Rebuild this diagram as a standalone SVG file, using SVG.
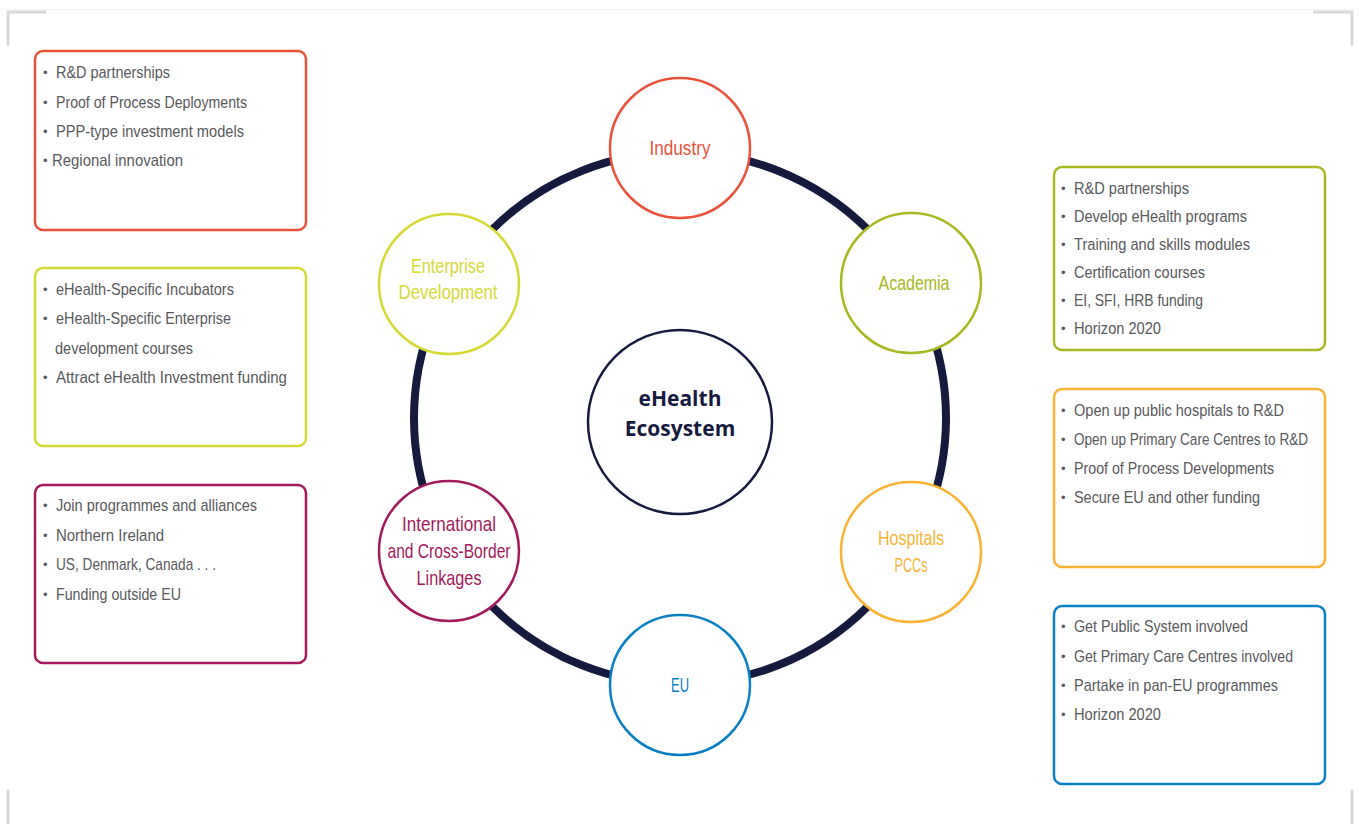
<svg xmlns="http://www.w3.org/2000/svg" width="1359" height="824" viewBox="0 0 1359 824">
<style>
.bg{fill:#ffffff}
.corner{fill:none;stroke:#d9d9d9;stroke-width:3}
.box{fill:#ffffff;stroke-width:2.5}
.bt{font-family:"Liberation Sans",Arial,sans-serif;font-size:17px;fill:#58595b}
.bu{font-family:"Liberation Sans",Arial,sans-serif;font-size:13px;fill:#58595b}
.node{fill:#ffffff;stroke-width:2.5}
.nl{font-family:"Liberation Sans",Arial,sans-serif;font-size:21px;text-anchor:middle}
.ring{fill:none;stroke:#171a3f;stroke-width:8}
.ct{font-family:"Open Sans","Liberation Sans",sans-serif;font-weight:bold;font-size:21px;fill:#171a3f;text-anchor:middle}
</style>
<rect class="bg" x="0" y="0" width="1359" height="824"/>
<line x1="0" y1="9.5" x2="1359" y2="9.5" stroke="#f3f3f3" stroke-width="1"/>
<path class="corner" d="M8,46 V12 H46"/>
<path class="corner" d="M1313,12 H1352 V46"/>
<path class="corner" d="M8,790 V824"/>
<path class="corner" d="M1352,790 V824"/>

<g id="connectors">
<circle class="ring" cx="680" cy="418" r="266"/>
</g>

<g id="center">
<circle cx="680" cy="422" r="92" fill="#ffffff" stroke="#171a3f" stroke-width="2.5"/>
<text class="ct" x="680" y="406">eHealth</text>
<text class="ct" x="680" y="436">Ecosystem</text>
</g>

<g id="industry">
<circle class="node" cx="680" cy="148" r="70" stroke="#e8523a"/>
<text class="nl" x="680" y="155" fill="#e8523a" textLength="61" lengthAdjust="spacingAndGlyphs">Industry</text>
</g>
<g id="academia">
<circle class="node" cx="911" cy="283" r="70" stroke="#a8b820"/>
<text class="nl" x="914" y="290" fill="#a8b820" textLength="71" lengthAdjust="spacingAndGlyphs">Academia</text>
</g>
<g id="hospitals">
<circle class="node" cx="911" cy="552" r="70" stroke="#f9b233"/>
<text class="nl" x="911" y="545" fill="#f9b233" textLength="66" lengthAdjust="spacingAndGlyphs">Hospitals</text>
<text class="nl" x="911" y="572" fill="#f9b233" textLength="33" lengthAdjust="spacingAndGlyphs">PCCs</text>
</g>
<g id="eu">
<circle class="node" cx="680" cy="685" r="70" stroke="#0a80c4"/>
<text class="nl" x="680" y="692" fill="#0a80c4" textLength="18" lengthAdjust="spacingAndGlyphs">EU</text>
</g>
<g id="international">
<circle class="node" cx="449" cy="551" r="70" stroke="#a3195b"/>
<text class="nl" x="449" y="531" fill="#a3195b" textLength="94" lengthAdjust="spacingAndGlyphs">International</text>
<text class="nl" x="449" y="558" fill="#a3195b" textLength="123" lengthAdjust="spacingAndGlyphs">and Cross-Border</text>
<text class="nl" x="449" y="585" fill="#a3195b" textLength="65" lengthAdjust="spacingAndGlyphs">Linkages</text>
</g>
<g id="enterprise">
<circle class="node" cx="449" cy="284" r="70" stroke="#d4d934"/>
<text class="nl" x="448" y="273" fill="#d4d934" textLength="74" lengthAdjust="spacingAndGlyphs">Enterprise</text>
<text class="nl" x="448" y="299" fill="#d4d934" textLength="99" lengthAdjust="spacingAndGlyphs">Development</text>
</g>

<g id="box-industry">
<rect class="box" x="35" y="51" width="271" height="179" rx="8" stroke="#e8523a"/>
<text class="bu" x="43" y="77">•</text><text class="bt" x="56" y="78" textLength="114" lengthAdjust="spacingAndGlyphs">R&amp;D partnerships</text>
<text class="bu" x="43" y="107">•</text><text class="bt" x="56" y="108" textLength="191" lengthAdjust="spacingAndGlyphs">Proof of Process Deployments</text>
<text class="bu" x="43" y="136">•</text><text class="bt" x="56" y="137" textLength="188" lengthAdjust="spacingAndGlyphs">PPP-type investment models</text>
<text class="bu" x="43" y="165">•</text><text class="bt" x="52" y="166" textLength="131" lengthAdjust="spacingAndGlyphs">Regional innovation</text>
</g>
<g id="box-enterprise">
<rect class="box" x="35" y="268" width="271" height="178" rx="8" stroke="#d4d934"/>
<text class="bu" x="43" y="294">•</text><text class="bt" x="56" y="295" textLength="178" lengthAdjust="spacingAndGlyphs">eHealth-Specific Incubators</text>
<text class="bu" x="43" y="323">•</text><text class="bt" x="56" y="324" textLength="175" lengthAdjust="spacingAndGlyphs">eHealth-Specific Enterprise</text>
<text class="bt" x="55" y="354" textLength="138" lengthAdjust="spacingAndGlyphs">development courses</text>
<text class="bu" x="43" y="382">•</text><text class="bt" x="56" y="383" textLength="231" lengthAdjust="spacingAndGlyphs">Attract eHealth Investment funding</text>
</g>
<g id="box-international">
<rect class="box" x="35" y="485" width="271" height="178" rx="8" stroke="#a3195b"/>
<text class="bu" x="43" y="510">•</text><text class="bt" x="56" y="511" textLength="201" lengthAdjust="spacingAndGlyphs">Join programmes and alliances</text>
<text class="bu" x="43" y="540">•</text><text class="bt" x="56" y="541" textLength="108" lengthAdjust="spacingAndGlyphs">Northern Ireland</text>
<text class="bu" x="43" y="569">•</text><text class="bt" x="56" y="570" textLength="160" lengthAdjust="spacingAndGlyphs">US, Denmark, Canada . . .</text>
<text class="bu" x="43" y="599">•</text><text class="bt" x="56" y="600" textLength="125" lengthAdjust="spacingAndGlyphs">Funding outside EU</text>
</g>
<g id="box-academia">
<rect class="box" x="1054" y="167" width="271" height="183" rx="8" stroke="#a8b820"/>
<text class="bu" x="1061" y="193">•</text><text class="bt" x="1074" y="194" textLength="115" lengthAdjust="spacingAndGlyphs">R&amp;D partnerships</text>
<text class="bu" x="1061" y="221">•</text><text class="bt" x="1074" y="222" textLength="173" lengthAdjust="spacingAndGlyphs">Develop eHealth programs</text>
<text class="bu" x="1061" y="249">•</text><text class="bt" x="1074" y="250" textLength="176" lengthAdjust="spacingAndGlyphs">Training and skills modules</text>
<text class="bu" x="1061" y="277">•</text><text class="bt" x="1074" y="278" textLength="131" lengthAdjust="spacingAndGlyphs">Certification courses</text>
<text class="bu" x="1061" y="305">•</text><text class="bt" x="1074" y="306" textLength="129" lengthAdjust="spacingAndGlyphs">EI, SFI, HRB funding</text>
<text class="bu" x="1061" y="333">•</text><text class="bt" x="1074" y="334" textLength="87" lengthAdjust="spacingAndGlyphs">Horizon 2020</text>
</g>
<g id="box-hospitals">
<rect class="box" x="1054" y="389" width="271" height="178" rx="8" stroke="#f9b233"/>
<text class="bu" x="1061" y="415">•</text><text class="bt" x="1074" y="416" textLength="210" lengthAdjust="spacingAndGlyphs">Open up public hospitals to R&amp;D</text>
<text class="bu" x="1061" y="444">•</text><text class="bt" transform="translate(1074,445) scale(0.797,1)" x="0" y="0">Open up Primary Care Centres to R&amp;D</text>
<text class="bu" x="1061" y="473">•</text><text class="bt" x="1074" y="474" textLength="200" lengthAdjust="spacingAndGlyphs">Proof of Process Developments</text>
<text class="bu" x="1061" y="502">•</text><text class="bt" x="1074" y="503" textLength="186" lengthAdjust="spacingAndGlyphs">Secure EU and other funding</text>
</g>
<g id="box-eu">
<rect class="box" x="1054" y="606" width="271" height="178" rx="8" stroke="#0a80c4"/>
<text class="bu" x="1061" y="631">•</text><text class="bt" x="1074" y="632" textLength="174" lengthAdjust="spacingAndGlyphs">Get Public System involved</text>
<text class="bu" x="1061" y="661">•</text><text class="bt" x="1074" y="662" textLength="219" lengthAdjust="spacingAndGlyphs">Get Primary Care Centres involved</text>
<text class="bu" x="1061" y="690">•</text><text class="bt" x="1074" y="691" textLength="204" lengthAdjust="spacingAndGlyphs">Partake in pan-EU programmes</text>
<text class="bu" x="1061" y="719">•</text><text class="bt" x="1074" y="720" textLength="87" lengthAdjust="spacingAndGlyphs">Horizon 2020</text>
</g>
</svg>
